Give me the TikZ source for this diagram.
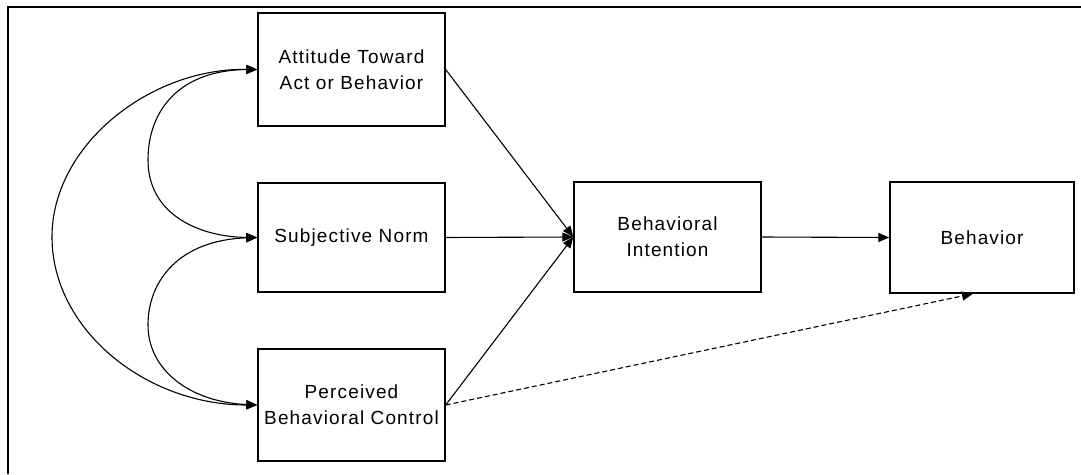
\documentclass[tikz,border=0pt]{standalone}
\usepackage{fontspec}
\setmainfont{Liberation Sans}[LetterSpace=6]
\usetikzlibrary{arrows.meta}
\begin{document}
\begin{tikzpicture}[x=1pt,y=-1pt,
  box/.style={draw,line width=1.4pt,rectangle,minimum width=187pt,align=center,font=\fontsize{19}{26}\selectfont,inner sep=0pt},
  tip/.style={-{Triangle[length=11pt,width=9pt]}},
  link/.style={line width=1.1pt},
  curve/.style={line width=1.1pt,{Triangle[length=11pt,width=9pt]}-{Triangle[length=11pt,width=9pt]}}]
\useasboundingbox (0,0) rectangle (1081,474);
\draw[line width=1.4pt] (8,474) -- (8,7) -- (1081,7);
\node[box,minimum height=113pt] (A) at (351.5,69.5) {Attitude Toward\\Act or Behavior};
\node[box,minimum height=109pt] (SN) at (351.5,237.5) {Subjective Norm};
\node[box,minimum height=112pt] (PBC) at (351.5,405) {Perceived\\Behavioral Control};
\node[box,minimum height=110pt] (BI) at (667.5,237) {Behavioral\\Intention};
\node[box,minimum width=184pt,minimum height=111pt] (B) at (982,237.5) {Behavior};
\draw[link,tip] (A.east) -- (BI.west);
\draw[link,tip] (SN.east) -- (BI.west);
\draw[link,tip] (PBC.east) -- (BI.west);
\draw[link,tip] (BI.east) -- (B.west);
\draw[link,tip,dash pattern=on 5pt off 3pt] (PBC.east) -- ([xshift=-9pt]B.south);
\draw[curve] (A.west) .. controls (180,70) and (148,110) .. (148,160)
  .. controls (148,215) and (200,237) .. (SN.west);
\draw[curve] (SN.west) .. controls (180,240) and (148,280) .. (148,325)
  .. controls (148,370) and (190,402) .. (PBC.west);
\draw[curve] (A.west) .. controls (150,68) and (52,145) .. (52,237)
  .. controls (52,329) and (145,405) .. (PBC.west);
\end{tikzpicture}
\end{document}
